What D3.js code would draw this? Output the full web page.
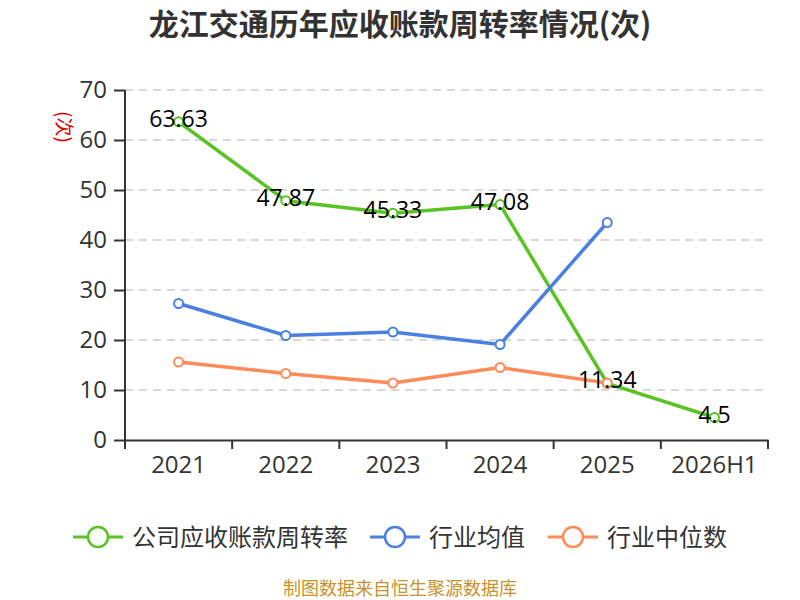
<!DOCTYPE html>
<html>
<head>
<meta charset="utf-8">
<script src="https://cdn.jsdelivr.net/npm/d3@7"></script>
<style>
  body { margin: 0; background: #fff; }
  text { font-family: "Noto Sans CJK SC", "Noto Sans", sans-serif; }
  .num { font-family: "Open Sans", "Noto Sans", sans-serif; }
</style>
</head>
<body>
<svg id="chart" width="800" height="600"></svg>
<script>
const years = ["2021", "2022", "2023", "2024", "2025", "2026H1"];
const companyValues = [63.63, 47.87, 45.33, 47.08, 11.34, 4.5];
const industryMean = [27.3, 20.9, 21.6, 19.1, 43.5];
const industryMedian = [15.6, 13.3, 11.4, 14.5, 11.4];
const yTicks = [0, 10, 20, 30, 40, 50, 60, 70];
const seriesNames = ["公司应收账款周转率", "行业均值", "行业中位数"];
const seriesColors = ["#58c322", "#4b80e0", "#ff8b58"];

const svg = d3.select("#chart");
const width = +svg.attr("width");

const margin = { top: 90, right: 32, bottom: 160, left: 125 };
const plotRight = width - margin.right;
const plotBottom = 440;

const x = d3.scaleBand()
  .domain(years)
  .range([margin.left, plotRight]);

const y = d3.scaleLinear()
  .domain([0, 70])
  .range([plotBottom, margin.top]);

// grid
svg.append("g")
  .selectAll("line")
  .data(yTicks.filter(d => d > 0))
  .enter()
  .append("line")
  .attr("x1", margin.left)
  .attr("x2", plotRight)
  .attr("y1", d => y(d))
  .attr("y2", d => y(d))
  .attr("stroke", "#cccccc")
  .attr("stroke-width", 1.5)
  .attr("stroke-dasharray", "8,6");

// axes
const xAxis = svg.append("g")
  .attr("transform", `translate(0,${plotBottom})`)
  .call(d3.axisBottom(x).tickSize(0).tickPadding(16));
xAxis.select(".domain").attr("stroke", "#333").attr("stroke-width", 2);
xAxis.selectAll("text")
  .attr("class", "num")
  .attr("font-size", 24)
  .attr("fill", "#333");

xAxis.selectAll(".band-tick")
  .data(years.concat(["end"]))
  .enter()
  .append("line")
  .attr("class", "band-tick")
  .attr("x1", (d, i) => margin.left + i * x.step())
  .attr("x2", (d, i) => margin.left + i * x.step())
  .attr("y1", 0)
  .attr("y2", 9)
  .attr("stroke", "#333")
  .attr("stroke-width", 2);

const yAxis = svg.append("g")
  .attr("transform", `translate(${margin.left},0)`)
  .call(d3.axisLeft(y).tickValues(yTicks).tickSize(11).tickPadding(7));
yAxis.select(".domain").attr("stroke", "#333").attr("stroke-width", 2)
  .attr("d", `M0,${plotBottom}V${margin.top}`);
yAxis.selectAll(".tick line").attr("stroke", "#333").attr("stroke-width", 2);
yAxis.selectAll("text")
  .attr("class", "num")
  .attr("font-size", 24)
  .attr("fill", "#333");

// unit label
svg.append("text")
  .attr("transform", "translate(57,127) rotate(90)")
  .attr("text-anchor", "middle")
  .attr("font-size", 19)
  .attr("fill", "#e00000")
  .text("(次)");

// lines
const allSeries = [companyValues, industryMean, industryMedian];
const line = d3.line()
  .x((d, i) => x(years[i]) + x.bandwidth() / 2)
  .y(d => y(d));

allSeries.forEach((vals, s) => {
  svg.append("path")
    .datum(vals)
    .attr("fill", "none")
    .attr("stroke", seriesColors[s])
    .attr("stroke-width", 3.5)
    .attr("stroke-linejoin", "round")
    .attr("d", line);
});

allSeries.forEach((vals, s) => {
  svg.append("g")
    .selectAll("circle")
    .data(vals)
    .enter()
    .append("circle")
    .attr("cx", (d, i) => x(years[i]) + x.bandwidth() / 2)
    .attr("cy", d => y(d))
    .attr("r", 4.5)
    .attr("fill", "#fff")
    .attr("stroke", seriesColors[s])
    .attr("stroke-width", 2);
});

// data labels on company series
svg.append("g")
  .selectAll("text")
  .data(companyValues)
  .enter()
  .append("text")
  .attr("class", "num")
  .attr("x", (d, i) => x(years[i]) + x.bandwidth() / 2)
  .attr("y", d => y(d) + 5)
  .attr("text-anchor", "middle")
  .attr("font-size", 23)
  .attr("fill", "#000")
  .text(d => d);

// title
svg.append("text")
  .attr("x", width / 2)
  .attr("y", 35)
  .attr("text-anchor", "middle")
  .attr("font-size", 30)
  .attr("font-weight", "bold")
  .attr("fill", "#333")
  .text("龙江交通历年应收账款周转率情况(次)");

// legend
const legendX = [73, 370, 548];
const legend = svg.append("g");
seriesNames.forEach((name, s) => {
  const g = legend.append("g").attr("transform", `translate(${legendX[s]},537)`);
  g.append("line")
    .attr("x1", 0).attr("x2", 50)
    .attr("stroke", seriesColors[s])
    .attr("stroke-width", 3);
  g.append("circle")
    .attr("cx", 25).attr("r", 10)
    .attr("fill", "#fff")
    .attr("stroke", seriesColors[s])
    .attr("stroke-width", 2.5);
  g.append("text")
    .attr("x", 59)
    .attr("y", 8.5)
    .attr("font-size", 24)
    .attr("fill", "#333")
    .text(name);
});

// source
svg.append("text")
  .attr("x", width / 2)
  .attr("y", 595)
  .attr("text-anchor", "middle")
  .attr("font-size", 18)
  .attr("fill", "#c8922a")
  .text("制图数据来自恒生聚源数据库");
</script>
</body>
</html>
